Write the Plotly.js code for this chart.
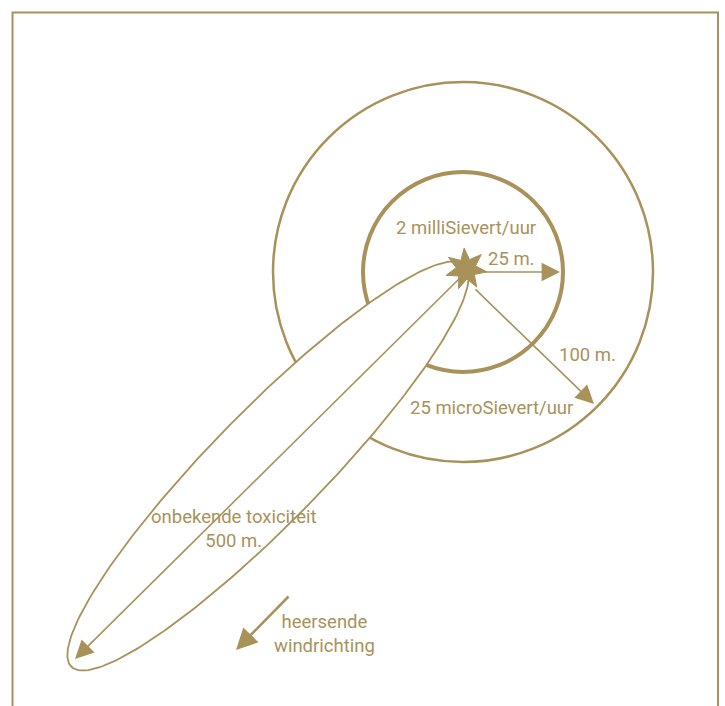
<!DOCTYPE html>
<html>
<head>
<meta charset="utf-8">
<script src="https://cdn.plot.ly/plotly-3.0.1.min.js"></script>
<style>html,body{margin:0;padding:0;background:#fff;}#chart{width:725px;height:706px;}</style>
</head>
<body>
<div id="chart"></div>
<script>
// Diagram parameters (drawing units = canvas pixels, y downward)
var gold = '#a8925a';
var sourcePoint = [466, 269];               // star (release source)
var innerCircle = [463, 272, 100];          // cx, cy, r  (2 milliSievert/uur, 25 m.)
var outerCircle = [463, 272, 190];          // cx, cy, r  (25 microSievert/uur, 100 m.)
var plumeEllipse = [268, 466, 281, 56, -45.6]; // cx, cy, semi-major, semi-minor, angle (deg)
var arrowStarts = [[482, 272], [474, 288], [464, 274], [290, 595]];
var arrowEnds   = [[560, 272], [594, 404], [75, 659], [236, 650]];
var labels = ['2 milliSievert/uur', '25 m.', '100 m.', '25 microSievert/uur',
              'onbekende toxiciteit<br>500 m.', 'heersende<br>windrichting'];
var labelPos = [[466, 228], [511, 259], [587, 355], [491, 408], [234, 529], [324, 634]];
var starShape = [7, 21, 10, -95];           // points, outer r, inner r, rotation (deg)

// ellipse outline
var ex = [], ey = [];
var th = plumeEllipse[4] * Math.PI / 180;
for (var i = 0; i <= 240; i++) {
  var t = 2 * Math.PI * i / 240;
  var u = plumeEllipse[2] * Math.cos(t), v = plumeEllipse[3] * Math.sin(t);
  ex.push(plumeEllipse[0] + u * Math.cos(th) - v * Math.sin(th));
  ey.push(plumeEllipse[1] + u * Math.sin(th) + v * Math.cos(th));
}
// star outline
var sx = [], sy = [];
for (var k = 0; k <= 2 * starShape[0]; k++) {
  var r = (k % 2 === 0) ? starShape[1] : starShape[2];
  var a = (starShape[3] + k * 180 / starShape[0]) * Math.PI / 180;
  sx.push(sourcePoint[0] + r * Math.cos(a));
  sy.push(sourcePoint[1] + r * Math.sin(a));
}

var traces = [
  {x: ex, y: ey, mode: 'lines', fill: 'toself', fillcolor: '#ffffff', line: {color: gold, width: 1.8}, hoverinfo: 'skip', showlegend: false},
  {x: sx, y: sy, mode: 'lines', fill: 'toself', fillcolor: gold, line: {color: gold, width: 1}, hoverinfo: 'skip', showlegend: false}
];

var shapes = [
  {type: 'rect', xref: 'x', yref: 'y', x0: 12.5, y0: 12.5, x1: 718, y1: 760, line: {color: gold, width: 2}},
  {type: 'circle', xref: 'x', yref: 'y', layer: 'below',
   x0: innerCircle[0] - innerCircle[2], x1: innerCircle[0] + innerCircle[2],
   y0: innerCircle[1] - innerCircle[2], y1: innerCircle[1] + innerCircle[2],
   line: {color: gold, width: 4}},
  {type: 'circle', xref: 'x', yref: 'y', layer: 'below',
   x0: outerCircle[0] - outerCircle[2], x1: outerCircle[0] + outerCircle[2],
   y0: outerCircle[1] - outerCircle[2], y1: outerCircle[1] + outerCircle[2],
   line: {color: gold, width: 2.5}}
];

var annotations = [];
for (var j = 0; j < arrowStarts.length; j++) {
  annotations.push({
    x: arrowEnds[j][0], y: arrowEnds[j][1], ax: arrowStarts[j][0], ay: arrowStarts[j][1],
    xref: 'x', yref: 'y', axref: 'x', ayref: 'y', text: '', showarrow: true,
    arrowhead: 2, arrowsize: j === 3 ? 1.7 : 2.3, arrowwidth: j === 3 ? 2.5 : 1.6, arrowcolor: gold
  });
}
for (var m = 0; m < labels.length; m++) {
  annotations.push({
    x: labelPos[m][0], y: labelPos[m][1], xref: 'x', yref: 'y', text: labels[m],
    showarrow: false, font: {family: 'Roboto, sans-serif', size: 18.5, color: gold},
    align: 'center', bgcolor: 'rgba(0,0,0,0)'
  });
}

var layout = {
  width: 725, height: 706,
  margin: {l: 0, r: 0, t: 0, b: 0},
  paper_bgcolor: '#ffffff', plot_bgcolor: '#ffffff',
  xaxis: {range: [0, 725], visible: false, fixedrange: true},
  yaxis: {range: [706, 0], visible: false, fixedrange: true},
  shapes: shapes, annotations: annotations, showlegend: false
};
Plotly.newPlot('chart', traces, layout, {displayModeBar: false, staticPlot: true});
</script>
</body>
</html>
